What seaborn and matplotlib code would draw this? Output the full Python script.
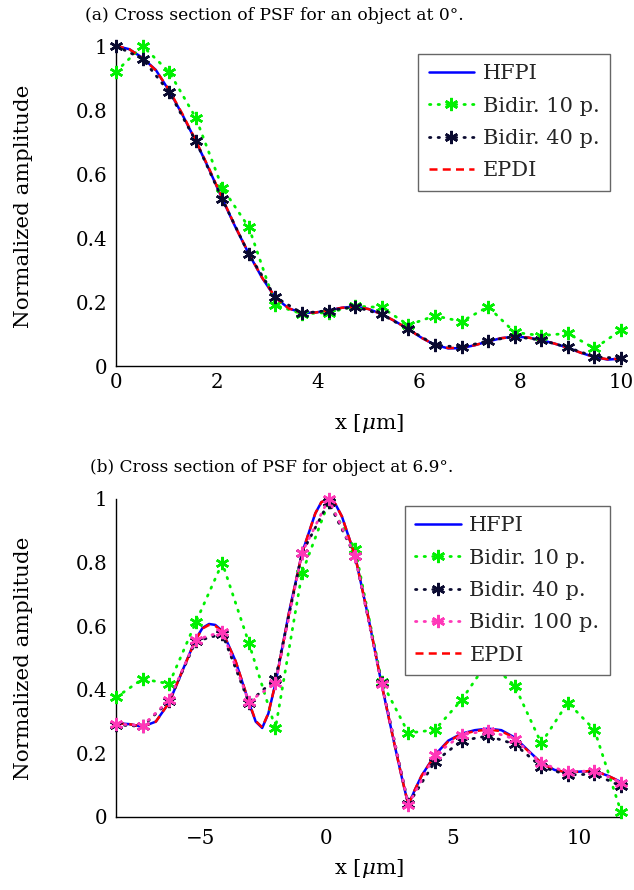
import matplotlib
matplotlib.use("Agg")
import matplotlib.pyplot as plt
import seaborn as sns

# ---------------- data ----------------
# (a) object at 0 deg
xa_pts = [0.0, 0.526, 1.053, 1.579, 2.105, 2.632, 3.158, 3.684, 4.211, 4.737,
          5.263, 5.789, 6.316, 6.842, 7.368, 7.895, 8.421, 8.947, 9.474, 10.0]
a_bidir10 = [0.92, 1.0, 0.919, 0.776, 0.557, 0.433, 0.19, 0.163, 0.167, 0.187,
             0.183, 0.128, 0.157, 0.139, 0.185, 0.105, 0.095, 0.102, 0.055, 0.112]
a_bidir40 = [1.0, 0.96, 0.856, 0.703, 0.521, 0.349, 0.215, 0.165, 0.173, 0.185,
             0.161, 0.115, 0.066, 0.058, 0.079, 0.092, 0.081, 0.058, 0.029, 0.024]
xa_fine = [0.0, 0.263, 0.526, 0.789, 1.053, 1.316, 1.579, 1.842, 2.105, 2.368,
           2.632, 2.895, 3.158, 3.421, 3.684, 3.947, 4.211, 4.474, 4.737, 5.0,
           5.263, 5.526, 5.789, 6.053, 6.316, 6.579, 6.842, 7.105, 7.368, 7.632,
           7.895, 8.158, 8.421, 8.684, 8.947, 9.211, 9.474, 9.737, 10.0]
a_hfpi = [1.0, 0.99, 0.963, 0.925, 0.86, 0.785, 0.703, 0.615, 0.522, 0.433,
          0.35, 0.275, 0.213, 0.18, 0.166, 0.167, 0.174, 0.182, 0.186, 0.178,
          0.162, 0.14, 0.115, 0.088, 0.066, 0.055, 0.056, 0.065, 0.077, 0.087,
          0.092, 0.089, 0.081, 0.07, 0.057, 0.041, 0.028, 0.02, 0.023]
a_epdi = [1.0, 0.99, 0.962, 0.924, 0.862, 0.787, 0.705, 0.617, 0.524, 0.434,
          0.351, 0.276, 0.214, 0.18, 0.166, 0.167, 0.174, 0.182, 0.185, 0.178,
          0.162, 0.14, 0.115, 0.088, 0.066, 0.056, 0.057, 0.065, 0.077, 0.087,
          0.091, 0.089, 0.081, 0.07, 0.057, 0.041, 0.028, 0.021, 0.023]

# (b) object at 6.9 deg
xb_pts = [-8.333, -7.281, -6.228, -5.175, -4.123, -3.070, -2.018, -0.965, 0.088, 1.140,
          2.193, 3.246, 4.298, 5.351, 6.404, 7.456, 8.509, 9.561, 10.614, 11.667]
b_bidir10 = [0.376, 0.434, 0.419, 0.612, 0.799, 0.547, 0.279, 0.767, 0.99, 0.843,
             0.425, 0.264, 0.274, 0.368, 0.49, 0.413, 0.232, 0.36, 0.274, 0.017]
b_bidir40 = [0.29, 0.285, 0.365, 0.552, 0.576, 0.36, 0.434, 0.83, 0.99, 0.82,
             0.42, 0.04, 0.174, 0.24, 0.255, 0.229, 0.158, 0.132, 0.135, 0.097]
b_bidir100 = [0.293, 0.287, 0.368, 0.557, 0.583, 0.363, 0.42, 0.831, 1.0, 0.821,
              0.417, 0.038, 0.195, 0.258, 0.272, 0.245, 0.169, 0.141, 0.146, 0.108]
xb_fine = [-8.333, -7.807, -7.281, -6.754, -6.228, -5.702, -5.175, -4.9, -4.649, -4.4,
           -4.123, -3.596, -3.070, -2.8, -2.544, -2.3, -2.018, -1.491, -0.965, -0.439,
           -0.2, 0.088, 0.35, 0.614, 1.140, 1.667, 2.193, 2.719, 3.0, 3.246,
           3.5, 3.772, 4.298, 4.825, 5.351, 5.877, 6.404, 6.930, 7.456, 7.982,
           8.509, 9.035, 9.561, 10.088, 10.614, 11.140, 11.667]
b_hfpi = [0.295, 0.292, 0.284, 0.30, 0.36, 0.46, 0.56, 0.595, 0.607, 0.604,
          0.585, 0.49, 0.36, 0.30, 0.28, 0.325, 0.42, 0.64, 0.83, 0.955,
          0.99, 1.0, 0.985, 0.945, 0.82, 0.625, 0.415, 0.22, 0.12, 0.037,
          0.085, 0.13, 0.195, 0.24, 0.262, 0.273, 0.278, 0.273, 0.25, 0.21,
          0.17, 0.148, 0.14, 0.143, 0.145, 0.13, 0.11]
b_epdi = [0.295, 0.292, 0.284, 0.30, 0.36, 0.46, 0.558, 0.593, 0.604, 0.601,
          0.583, 0.49, 0.362, 0.302, 0.282, 0.326, 0.42, 0.638, 0.83, 0.955,
          0.99, 1.0, 0.985, 0.945, 0.82, 0.625, 0.415, 0.22, 0.12, 0.038,
          0.085, 0.13, 0.193, 0.238, 0.26, 0.27, 0.275, 0.27, 0.248, 0.208,
          0.17, 0.148, 0.14, 0.143, 0.145, 0.13, 0.11]

yticks = [0, 0.2, 0.4, 0.6, 0.8, 1.0]
yticklabels = ["0", "0.2", "0.4", "0.6", "0.8", "1"]
xa_ticks = [0, 2, 4, 6, 8, 10]
xb_ticks = [-5, 0, 5, 10]

# ---------------- style ----------------
sns.set_theme(style="white")
plt.rcParams["font.family"] = ["DejaVu Serif"]
plt.rcParams["mathtext.fontset"] = "dejavuserif"
plt.rcParams["axes.unicode_minus"] = True

C_BLUE = "#0000ff"
C_GREEN = "#00f000"
C_BLACK = "#0a0a30"
C_PINK = "#ff38b8"
C_RED = "#ff0000"
AST = (6, 2, 0)
DOT = (0, (0.5, 2.6))

fig = plt.figure(figsize=(6.34, 8.9), dpi=100)
W, H = 634, 890
ax1 = fig.add_axes([116 / W, (H - 366) / H, 505 / W, 320 / H])
ax2 = fig.add_axes([116 / W, (H - 817) / H, 505 / W, 318 / H])


def solid(ax, x, y, label, z):
    sns.lineplot(x=x, y=y, ax=ax, color=C_BLUE, linewidth=1.8, label=label,
                 sort=False, estimator=None, zorder=z, clip_on=False)


def dashed(ax, x, y, label, z):
    sns.lineplot(x=x, y=y, ax=ax, color=C_RED, linewidth=1.8, label=label,
                 linestyle=(0, (3.2, 2.1)), sort=False, estimator=None,
                 zorder=z, clip_on=False)


def marked(ax, x, y, color, label, z):
    sns.lineplot(x=x, y=y, ax=ax, color=color, linewidth=2.0, label=label,
                 linestyle=DOT, dash_capstyle="round", marker=AST, markersize=9.5,
                 markeredgewidth=1.8, markeredgecolor=color, markerfacecolor=color,
                 sort=False, estimator=None, zorder=z, clip_on=False)


# (a)
solid(ax1, xa_fine, a_hfpi, "HFPI", 2)
marked(ax1, xa_pts, a_bidir10, C_GREEN, "Bidir. 10 p.", 3)
marked(ax1, xa_pts, a_bidir40, C_BLACK, "Bidir. 40 p.", 5)
dashed(ax1, xa_fine, a_epdi, "EPDI", 4)

# (b)
solid(ax2, xb_fine, b_hfpi, "HFPI", 2)
marked(ax2, xb_pts, b_bidir10, C_GREEN, "Bidir. 10 p.", 3)
marked(ax2, xb_pts, b_bidir40, C_BLACK, "Bidir. 40 p.", 5)
marked(ax2, xb_pts, b_bidir100, C_PINK, "Bidir. 100 p.", 6)
dashed(ax2, xb_fine, b_epdi, "EPDI", 4)

for ax, xt, xlim, xpad in ((ax1, xa_ticks, (0, 10), 5.0), (ax2, xb_ticks, (-8.333, 11.667), 8.5)):
    ax.set_xlim(*xlim)
    ax.set_ylim(0, 1)
    ax.set_xticks(xt)
    ax.set_xticklabels([("\u2212%d" % -t) if t < 0 else str(t) for t in xt])
    ax.set_yticks(yticks)
    ax.set_yticklabels(yticklabels)
    ax.tick_params(axis="both", direction="in", length=8, width=0.8, color="#a0a0a0",
                   labelsize=14.3, labelcolor="black")
    ax.tick_params(axis="y", pad=6.0)
    ax.tick_params(axis="x", pad=xpad)
    for s in ("top", "right"):
        ax.spines[s].set_visible(False)
    for s in ("left", "bottom"):
        ax.spines[s].set_color("black")
        ax.spines[s].set_linewidth(1.0)
        ax.spines[s].set_zorder(1)
    ax.set_ylabel("Normalized amplitude", fontsize=15.4, color="black")
    ax.yaxis.set_label_coords(-0.164, 0.5)
    ax.set_xlabel(r"x [$\mu$m]", fontsize=15.4, color="black")
    ax.set_facecolor("white")

ax1.xaxis.set_label_coords(0.5, -0.145)
ax2.xaxis.set_label_coords(0.5, -0.125)

leg_kw = dict(loc="upper right", fontsize=15, frameon=True, fancybox=False,
              framealpha=1.0, edgecolor="#666666", numpoints=1, handlelength=2.2,
              handletextpad=0.4, labelspacing=0.64, borderpad=0.5, borderaxespad=0.0)
l1 = ax1.legend(bbox_to_anchor=(0.978, 0.975), **leg_kw)
l2 = ax2.legend(bbox_to_anchor=(0.978, 0.978), **leg_kw)
for leg in (l1, l2):
    leg.get_frame().set_linewidth(1.0)
    leg.set_zorder(10)

fig.text(85 / W, 1 - 16 / H, "(a) Cross section of PSF for an object at 0°.",
         fontsize=12.3, va="center", ha="left", color="black")
fig.text(90 / W, 1 - 467 / H, "(b) Cross section of PSF for object at 6.9°.",
         fontsize=12.2, va="center", ha="left", color="black")

fig.savefig("out.png", dpi=100, facecolor="white")
